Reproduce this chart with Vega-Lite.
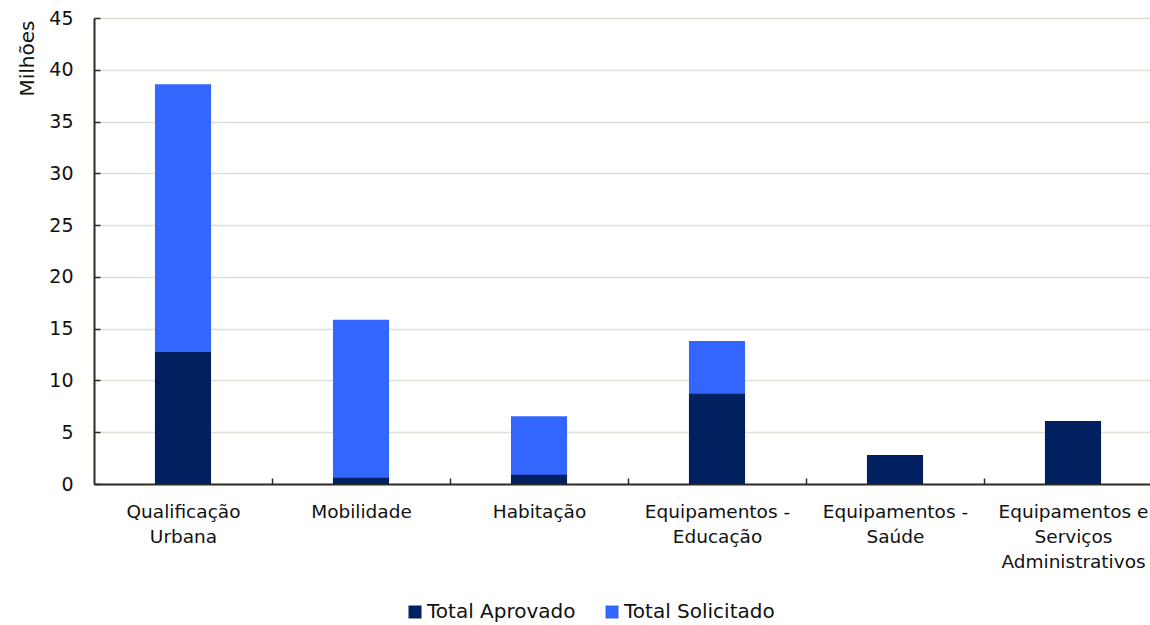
{
  "$schema": "https://vega.github.io/schema/vega-lite/v6.json",
  "autosize": "none",
  "width": 1056,
  "height": 466,
  "padding": {"left": 94, "top": 18, "right": 0, "bottom": 141},
  "background": "white",
  "config": {
    "font": "DejaVu Sans",
    "view": {"stroke": null},
    "axis": {"labelFont": "DejaVu Sans", "titleFont": "DejaVu Sans", "labelColor": "#111111", "titleColor": "#111111"},
    "legend": {"labelFont": "DejaVu Sans"}
  },
  "data": {
    "values": [
      {"categoria": "Qualificação Urbana", "serie": "Total Solicitado", "valor": 38.6},
      {"categoria": "Mobilidade", "serie": "Total Solicitado", "valor": 15.85},
      {"categoria": "Habitação", "serie": "Total Solicitado", "valor": 6.55},
      {"categoria": "Equipamentos - Educação", "serie": "Total Solicitado", "valor": 13.8},
      {"categoria": "Equipamentos - Saúde", "serie": "Total Solicitado", "valor": 2.8},
      {"categoria": "Equipamentos e Serviços Administrativos", "serie": "Total Solicitado", "valor": 6.08},
      {"categoria": "Qualificação Urbana", "serie": "Total Aprovado", "valor": 12.75},
      {"categoria": "Mobilidade", "serie": "Total Aprovado", "valor": 0.6},
      {"categoria": "Habitação", "serie": "Total Aprovado", "valor": 0.9},
      {"categoria": "Equipamentos - Educação", "serie": "Total Aprovado", "valor": 8.72},
      {"categoria": "Equipamentos - Saúde", "serie": "Total Aprovado", "valor": 2.8},
      {"categoria": "Equipamentos e Serviços Administrativos", "serie": "Total Aprovado", "valor": 6.08}
    ]
  },
  "encoding": {
    "x": {
      "field": "categoria",
      "type": "nominal",
      "sort": null,
      "scale": {"range": [0, 1068], "paddingInner": 0.685, "paddingOuter": 0.3425},
      "axis": {
        "title": null,
        "labelAngle": 0,
        "labelFontSize": 18.5,
        "labelLineHeight": 25,
        "labelPadding": 24,
        "labelBaseline": "top",
        "labelLimit": 300,
        "tickOffset": 89,
        "labelOffset": -89,
        "tickSize": -6,
        "tickColor": "#2F2B25",
        "tickWidth": 1.5,
        "domainColor": "#2F2B25",
        "domainWidth": 2,
        "grid": false,
        "labelExpr": "datum.value == 'Qualificação Urbana' ? ['Qualificação', 'Urbana'] : datum.value == 'Equipamentos - Educação' ? ['Equipamentos -', 'Educação'] : datum.value == 'Equipamentos - Saúde' ? ['Equipamentos -', 'Saúde'] : datum.value == 'Equipamentos e Serviços Administrativos' ? ['Equipamentos e', 'Serviços', 'Administrativos'] : datum.value"
      }
    },
    "y": {
      "field": "valor",
      "type": "quantitative",
      "scale": {"domain": [0, 45], "nice": false},
      "axis": {
        "title": "Milhões",
        "titleFontSize": 20,
        "titleFontWeight": "normal",
        "titleAnchor": "end",
        "titleAlign": "right",
        "titleBaseline": "middle",
        "titleAngle": -90,
        "titleX": -67,
        "titleY": 2,
        "values": [0, 5, 10, 15, 20, 25, 30, 35, 40, 45],
        "labelFontSize": 19,
        "labelPadding": 27,
        "tickSize": -6,
        "tickColor": "#2F2B25",
        "tickWidth": 1.5,
        "domainColor": "#2F2B25",
        "domainWidth": 2,
        "gridColor": "#E2DFD9",
        "gridWidth": 1.5
      }
    },
    "color": {
      "field": "serie",
      "type": "nominal",
      "scale": {"domain": ["Total Aprovado", "Total Solicitado"], "range": ["#002060", "#3366FF"]},
      "legend": {
        "title": null,
        "orient": "none",
        "direction": "horizontal",
        "legendX": 311,
        "legendY": 584,
        "padding": 0,
        "symbolType": "square",
        "symbolSize": 169,
        "symbolStrokeWidth": 0,
        "symbolOpacity": 1,
        "labelFontSize": 20,
        "labelColor": "#111111",
        "labelOffset": 2,
        "labelLimit": 300,
        "columnPadding": 26
      }
    }
  },
  "layer": [
    {"transform": [{"filter": "datum.serie == 'Total Solicitado'"}], "mark": {"type": "bar", "opacity": 1}},
    {"transform": [{"filter": "datum.serie == 'Total Aprovado'"}], "mark": {"type": "bar", "opacity": 1}}
  ]
}
